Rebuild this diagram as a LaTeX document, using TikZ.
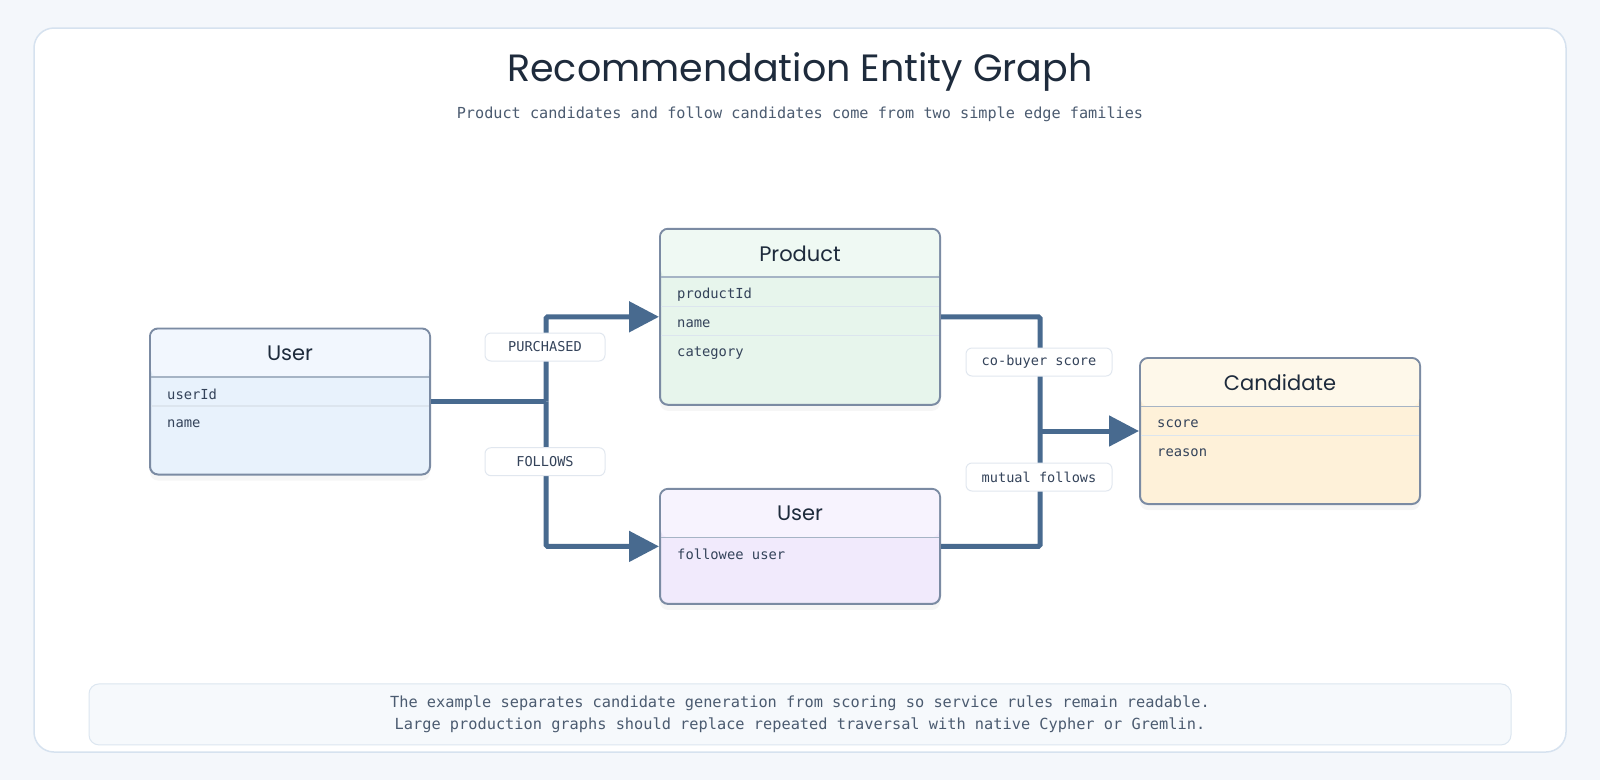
\documentclass[tikz,border=0pt]{standalone}
\usepackage{fontspec}
\setmonofont{DejaVu Sans Mono}
\newfontfamily\handfont{Poppins}
\usepackage{tikz}
\usetikzlibrary{positioning,calc}
\usetikzlibrary{arrows.meta,shadows}
\definecolor{PageBg}{HTML}{F4F7FB}
\definecolor{CardLine}{HTML}{D6E2EF}
\definecolor{Ink}{HTML}{1E2B3C}
\definecolor{SubInk}{HTML}{4B5B70}
\definecolor{EntLine}{HTML}{7B8BA3}
\definecolor{HeadLine}{HTML}{A6B4C5}
\definecolor{RowLine}{HTML}{DCE5EE}
\definecolor{FieldInk}{HTML}{34435A}
\definecolor{LinkBlue}{HTML}{486A8F}
\definecolor{TagLine}{HTML}{E1E7EF}
\definecolor{FootFill}{HTML}{F6F9FC}
\definecolor{FootLine}{HTML}{DCE6F0}
\definecolor{UserHead}{HTML}{F2F7FE}
\definecolor{UserBody}{HTML}{E8F2FC}
\definecolor{ProdHead}{HTML}{EFF9F3}
\definecolor{ProdBody}{HTML}{E7F5EC}
\definecolor{FolHead}{HTML}{F7F3FE}
\definecolor{FolBody}{HTML}{F1EAFC}
\definecolor{CandHead}{HTML}{FEF8EA}
\definecolor{CandBody}{HTML}{FEF1D9}
\tikzset{
  card/.style={draw=CardLine,fill=white,line width=1.5pt,rounded corners=20pt},
  ttl/.style={text=Ink,font=\handfont\fontsize{38}{42}\selectfont},
  subttl/.style={text=SubInk,font=\ttfamily\fontsize{15.2}{18}\selectfont},
  ent/.style={draw=EntLine,line width=2pt,rounded corners=8pt,minimum width=280pt,inner sep=0pt,
    drop shadow={shadow xshift=0pt,shadow yshift=-6pt,opacity=0.07}},
  entHead/.style={rounded corners=7pt,minimum width=278pt,minimum height=47pt,inner sep=0pt,anchor=north,
    text=Ink,font=\handfont\fontsize{21}{24}\selectfont},
  headline/.style={draw=HeadLine,line width=1.5pt,shorten <=2pt,shorten >=2pt},
  rowline/.style={draw=RowLine,line width=1.2pt,shorten <=2pt,shorten >=2pt},
  field/.style={anchor=west,inner sep=0pt,text=FieldInk,font=\ttfamily\fontsize{13.8}{16}\selectfont},
  link/.style={draw=LinkBlue,line width=5pt,rounded corners=1.5pt},
  arrowhd/.style={-{Triangle[length=30pt,width=30pt]}},
  tag/.style={draw=TagLine,fill=white,line width=1pt,rounded corners=6pt,minimum height=28pt,inner sep=0pt,
    text=FieldInk,font=\ttfamily\fontsize{13.6}{16}\selectfont},
  foot/.style={draw=FootLine,fill=FootFill,line width=1pt,rounded corners=10pt,minimum width=1422pt,
    minimum height=61pt,align=center,text=SubInk,font=\ttfamily\fontsize{15.3}{22.5}\selectfont},
}
\begin{document}
\begin{tikzpicture}[x=1pt,y=-1pt]
\fill[PageBg] (0,0) rectangle (1600,780);
\useasboundingbox (0,0) rectangle (1600,780);
\draw[card] (34,28) rectangle (1566,752);
\node[ttl] (title) at (800,72) {Recommendation Entity Graph};
\node[subttl] (subtitle) at (800,114) {Product candidates and follow candidates come from two simple edge families};

\node[ent,fill=UserBody,minimum height=146pt] (user) at (290,401.5) {};
\node[entHead,fill=UserHead] (userHd) at ([yshift=-2pt]user.north) {User};
\draw[headline] (user.west |- userHd.south) -- (user.east |- userHd.south);
\draw[rowline] ([yshift=-78.5pt]user.north west) -- ([yshift=-78.5pt]user.north east);
\node[field] (userId) at ([shift={(18pt,-66.5pt)}]user.north west) {userId};
\node[field] (userName) at ([shift={(18pt,-96pt)}]user.north west) {name};

\node[ent,fill=ProdBody,minimum height=176pt] (product) at (800,316.8) {};
\node[entHead,fill=ProdHead] (productHd) at ([yshift=-2pt]product.north) {Product};
\draw[headline] (product.west |- productHd.south) -- (product.east |- productHd.south);
\draw[rowline] ([yshift=-78.5pt]product.north west) -- ([yshift=-78.5pt]product.north east);
\draw[rowline] ([yshift=-108pt]product.north west) -- ([yshift=-108pt]product.north east);
\node[field] (productId) at ([shift={(18pt,-66.5pt)}]product.north west) {productId};
\node[field] (productName) at ([shift={(18pt,-96pt)}]product.north west) {name};
\node[field] (productCat) at ([shift={(18pt,-125.5pt)}]product.north west) {category};

\node[ent,fill=FolBody,minimum height=115pt] (followee) at (800,546.4) {};
\node[entHead,fill=FolHead] (followeeHd) at ([yshift=-2pt]followee.north) {User};
\draw[headline] (followee.west |- followeeHd.south) -- (followee.east |- followeeHd.south);
\node[field] (followeeUser) at ([shift={(18pt,-66.5pt)}]followee.north west) {followee user};

\node[ent,fill=CandBody,minimum height=146pt] (cand) at (1280,431) {};
\node[entHead,fill=CandHead] (candHd) at ([yshift=-2pt]cand.north) {Candidate};
\draw[headline] (cand.west |- candHd.south) -- (cand.east |- candHd.south);
\draw[rowline] ([yshift=-78.5pt]cand.north west) -- ([yshift=-78.5pt]cand.north east);
\node[field] (candScore) at ([shift={(18pt,-66.5pt)}]cand.north west) {score};
\node[field] (candReason) at ([shift={(18pt,-96pt)}]cand.north west) {reason};

\coordinate (splitL) at (546,0);
\coordinate (joinR) at (1040,0);
\draw[link] (user.east) -- (user.east -| splitL);
\draw[link,arrowhd] (user.east -| splitL) |- (product.west);
\draw[link,arrowhd] (user.east -| splitL) |- (followee.west);
\draw[link] (product.east) -| (joinR |- followee.east) -- (followee.east);
\draw[link,arrowhd] (joinR |- cand.west) -- (cand.west);

\node[tag,minimum width=120pt] (purchased) at (545,347) {PURCHASED};
\node[tag,minimum width=120pt] (follows) at (545,461.7) {FOLLOWS};
\node[tag,minimum width=146pt] (coBuyer) at (1039,362) {co-buyer score};
\node[tag,minimum width=146pt] (mutual) at (1039,477) {mutual follows};

\node[foot] (note) at (800,714.4) {The example separates candidate generation from scoring so service rules remain readable.\\Large production graphs should replace repeated traversal with native Cypher or Gremlin.};
\end{tikzpicture}
\end{document}
